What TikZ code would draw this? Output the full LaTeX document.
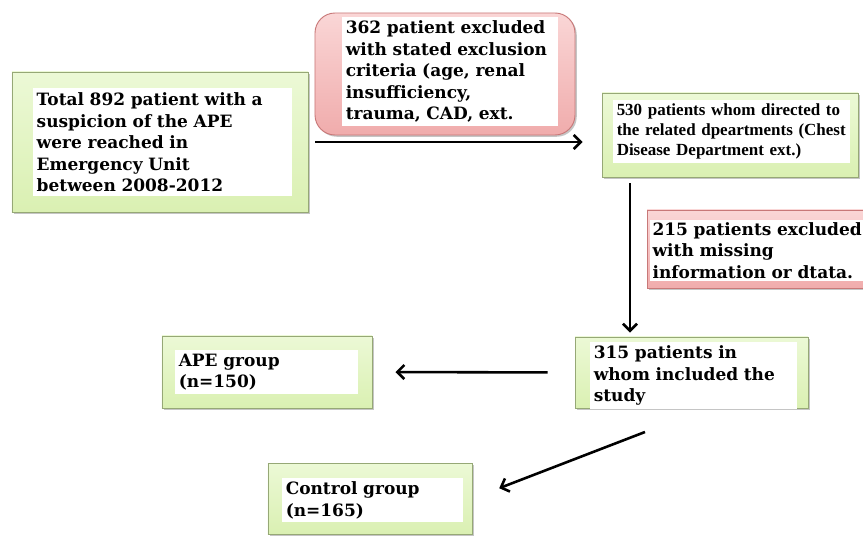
\documentclass[tikz,border=0pt]{standalone}
\usepackage{fontspec}
\setmainfont{DejaVu Serif}
\newfontfamily\timesfont{Liberation Serif}
\usetikzlibrary{arrows.meta,shadows}
\definecolor{gtop}{RGB}{236,249,214}
\definecolor{gbot}{RGB}{218,240,178}
\definecolor{gline}{RGB}{150,168,118}
\definecolor{ptop}{RGB}{250,214,214}
\definecolor{pbot}{RGB}{240,172,172}
\definecolor{pline}{RGB}{200,120,120}
\hyphenpenalty=10000

\begin{document}
\begin{tikzpicture}[
  x=0.03cm, y=-0.03cm,
  greenbox/.style={rectangle, draw=gline, top color=gtop, bottom color=gbot, line width=0.8pt, drop shadow={shadow xshift=1.5pt, shadow yshift=-1.5pt, fill=black!45}},
  pinkbox/.style={rectangle, draw=pline, top color=ptop, bottom color=pbot, line width=0.8pt, drop shadow={shadow xshift=1.5pt, shadow yshift=-1.5pt, fill=black!45}},
  txt/.style={fill=white, anchor=north west, align=left, inner sep=3pt, font=\fontsize{14.5}{18.3}\selectfont\bfseries},
  arr/.style={-{Straight Barb[length=6pt,width=12pt]}, line width=2.2pt},
]
\useasboundingbox (0,0) rectangle (863,536);

% Start
\node[greenbox, minimum width=8.88cm, minimum height=4.2cm] (total) at (160,142) {};
\node[txt, text width=7.55cm, minimum height=3.24cm] (totaltxt) at (33,88) {Total 892 patient with a\\ suspicion of the APE\\ were reached in\\ Emergency Unit\\ between 2008-2012};

% First exclusion
\node[pinkbox, rounded corners=0.6cm, minimum width=7.8cm, minimum height=3.66cm] (excl) at (445,74) {};
\node[txt, text width=6.27cm, minimum height=3.27cm] (excltxt) at (342,17) {362 patient excluded\\ with stated exclusion\\ criteria (age, renal\\ insufficiency,\\ trauma, CAD, ext.};

% Directed
\node[greenbox, minimum width=7.68cm, minimum height=2.52cm] (directed) at (730,135) {};
\node[txt, text width=6.9cm, minimum height=1.86cm, font=\timesfont\fontsize{14.5}{17}\selectfont\bfseries] (directedtxt) at (613,100) {530 patients whom directed to\\ the related dpeartments (Chest\\ Disease Department ext.)};

% Second exclusion
\node[pinkbox, minimum width=6.63cm, minimum height=2.34cm] (missing) at (757.5,249) {};
\node[txt, text width=6.6cm, minimum height=1.8cm, inner sep=2pt] (missingtxt) at (650,220) {215 patients excluded\\ with missing\\ information or dtata.};

% Study
\node[greenbox, minimum width=6.99cm, minimum height=2.13cm] (study) at (691.5,372.5) {};
\node[txt, text width=6.0cm, minimum height=1.74cm] (studytxt) at (590,342) {315 patients in\\ whom included the\\ study};

% Groups
\node[greenbox, minimum width=6.3cm, minimum height=2.16cm] (ape) at (267,372) {};
\node[txt, text width=5.28cm, minimum height=1.29cm] (apetxt) at (175,350) {APE group\\ (n=150)};

\node[greenbox, minimum width=6.12cm, minimum height=2.13cm] (control) at (370,498.5) {};
\node[txt, text width=5.22cm, minimum height=1.26cm] (controltxt) at (282,478) {Control group\\ (n=165)};

% Arrows
\coordinate (vline) at (630,0);
\coordinate (split) at (645,432);
\draw[arr, shorten <=0.21cm, shorten >=0.57cm] (total.east) -- (total.east -| directed.west);
\draw[arr, shorten <=0.18cm, shorten >=0.12cm] (directed.south -| vline) -- (study.north -| vline);
\draw[arr, shorten <=0.81cm, shorten >=0.69cm] (study.west) -- (ape.east);
\draw[arr, shorten >=0.86cm] (split) -- (control.east);
\end{tikzpicture}
\end{document}
